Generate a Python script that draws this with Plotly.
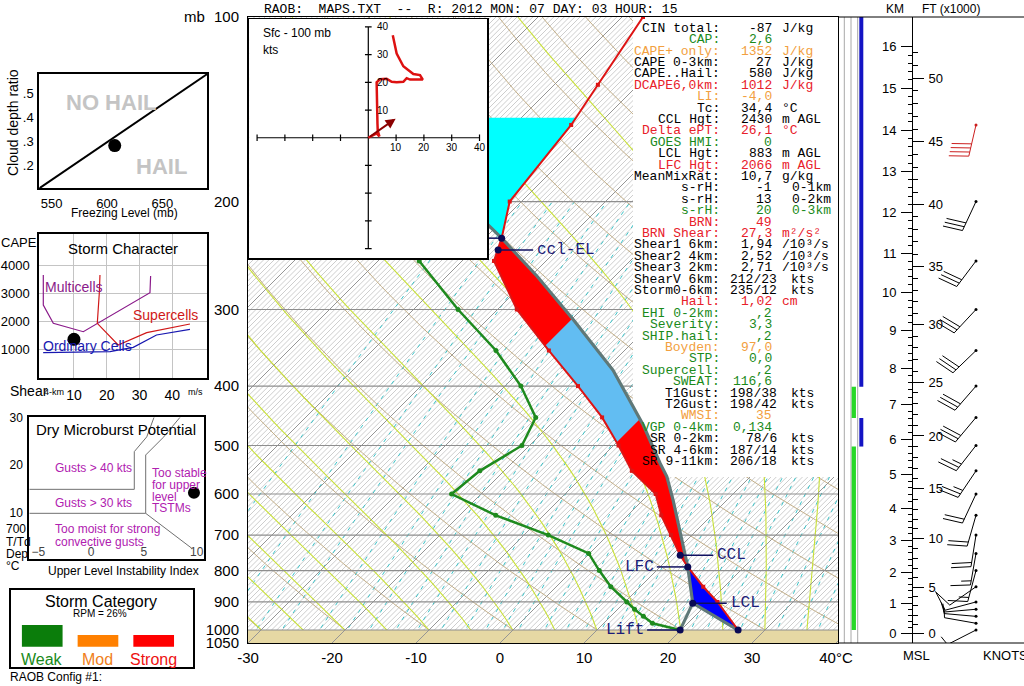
import numpy as np
import plotly.graph_objects as go

W, H = 1024, 686
SANS = "Liberation Sans, Arial, sans-serif"
MONO = "Liberation Mono, Courier New, monospace"

# ======================= DATA =======================
# Environmental temperature profile (mb, degC)
TEMP_P = [100, 129, 150, 200, 229.5, 250, 300, 350, 400, 450, 500, 550, 600, 650, 700, 755, 789, 850, 900, 1000]
TEMP_C = [-57.5, -54.8, -53.2, -51.4, -48.0, -46.2, -37.7, -29.0, -21.3, -14.7, -9.4, -4.8, 0.8, 4.0, 7.5, 11.0, 13.3, 17.5, 21.0, 26.8]
# Dew point profile
DEWP_P = [250, 300, 350, 400, 450, 500, 550, 600, 650, 700, 750, 800, 850, 900, 925, 950, 975, 1000]
DEWP_C = [-55.1, -44.7, -35.3, -28.1, -22.6, -20.9, -22.9, -23.5, -15.7, -7.1, -0.1, 3.2, 6.5, 10.2, 12.0, 13.9, 15.8, 19.9]
# Lifted parcel path
PARCEL_P = [1000, 904, 789, 700, 614, 562, 535, 463, 377, 312, 265, 229.5, 217, 191.5, 146]
PARCEL_C = [26.8, 18.2, 13.3, 8.7, 3.6, 0.05, -2.3, -8.9, -19.0, -29.7, -39.2, -48.0, -51.6, -58.7, -74.5]
# Key levels
LEVEL_NAMES = ["CCL", "LFC", "LCL", "Lift", "ccl-EL", "EL", "Sfc"]
LEVEL_P = [755, 789, 904, 1000, 240, 229.5, 1000]
LEVEL_C = [11.0, 13.3, 18.2, 19.9, -47.0, -48.0, 26.8]
HAIL_ZONE_C = [-30, -10]
NEG_AREA_TOP_P = 146
SURFACE_P = 1000

# Winds (mb, direction deg, speed kts)
WIND_P = [150, 200, 250, 300, 350, 400, 450, 500, 550, 600, 650, 700, 750, 800, 850, 900, 925, 950, 975, 1000]
WIND_DIR = [193, 205, 217, 223, 226, 221, 220, 218, 214, 205, 196, 189, 190, 195, 235, 255, 265, 275, 280, 243]
WIND_SPD = [40, 30, 30, 30, 30, 30, 30, 25, 25, 20, 20, 20, 15, 15, 10, 10, 5, 5, 5, 5]

# Hodograph (u, v in kts)
HODO_U = [0, 1.8, 3.0, 4.0, 3.4, 3.3, 3.2, 3.0, 3.0, 4.2, 6.6, 8.4, 10.2, 12.6, 13.8, 15.0, 19.6, 18.6, 16.2, 12.6, 10.2, 8.8]
HODO_V = [0, 0.8, 1.6, 0.5, 2.5, 5.0, 8.0, 15.0, 20.0, 21.1, 21.3, 20.2, 20.0, 20.2, 21.5, 21.0, 21.0, 22.6, 23.0, 25.8, 30.4, 37.0]
STORM_DIR, STORM_SPD = 235, 12

# Height scale (km MSL -> mb)
KM_TICKS = list(range(0, 17))
KM_TICK_P = [1012.7, 904.7, 805.3, 713.3, 633.2, 557.3, 488.6, 428.4, 374.2, 324.1, 281.7, 242.9, 208.3, 178.8, 152.9, 130.7, 111.8]
FT_TICKS = [0, 5, 10, 15, 20, 25, 30, 35, 40, 45, 50]

# Indicator bars (mb layers)
GREEN_LAYERS = [(401, 451), (502, 1000)]
BLUE_LAYERS = [(100, 401), (451, 502)]

# Hail panel
HAIL_LINE_X = [538.8, 690.7]
HAIL_LINE_Y = [0.106, 0.58]
HAIL_PT_X, HAIL_PT_Y = 607, 0.283

# Storm character panel
MULTI_X = [0.64, 0.64, 3.7, 12.85, 33.2, 33.4]
MULTI_Y = [3644, 2577, 1925, 1626, 3014, 3609]
SUPER_X = [17.94, 17.73, 17.12, 23.5, 32.2, 45.4]
SUPER_Y = [3644, 2993, 1925, 1153, 1591, 1900]
ORD_X = [0.6, 21.0, 28.1, 35.2, 45.4]
ORD_Y = [880, 915, 1070, 1510, 1710]
STORM_PT_X, STORM_PT_Y = 10.0, 1356

# Dry microburst panel
MB_LINE1_X = [-5.85, 4.09, 4.09, 5.27, 5.96]
MB_LINE1_Y = [14.9, 14.9, 22.8, 25.9, 30.0]
MB_LINE2_X = [-5.85, 5.17, 5.17, 6.84, 8.42]
MB_LINE2_Y = [9.87, 9.87, 22.1, 25.8, 30.0]
MB_LINE3_X = [5.17, 9.53]
MB_LINE3_Y = [9.87, 2.54]
MB_PT_X, MB_PT_Y = 9.74, 14.2

# Storm category
CAT_NAMES = ["Weak", "Mod", "Strong"]
CAT_VALUES = [1.85, 1.0, 1.0]

# Index table
TABLE_LABELS = ["CIN total:", "CAP:", "CAPE+ only:", "CAPE 0-3km:", "CAPE..Hail:", "DCAPE6,0km:", "LI:", "Tc:",
                "CCL Hgt:", "Delta ePT:", "GOES HMI:", "LCL Hgt:", "LFC Hgt:", "MeanMixRat:", "s-rH:", "s-rH:",
                "s-rH:", "BRN:", "BRN Shear:", "Shear1 6km:", "Shear2 4km:", "Shear3 2km:", "ShearV 6km:",
                "Storm0-6km:", "Hail:", "EHI 0-2km:", "Severity:", "SHIP.hail:", "Boyden:", "STP:", "Supercell:",
                "SWEAT:", "T1Gust:", "T2Gust:", "WMSI:", "VGP 0-4km:", "SR 0-2km:", "SR 4-6km:", "SR 9-11km:"]
TABLE_VALUES = ["-87", "2,6", "1352", "27", "580", "1012", "-4,0", "34,4", "2430", "26,1", "0", "883", "2066",
                "10,7", "-1", "13", "20", "49", "27,3", "1,94", "2,52", "2,71", "212/23", "235/12", "1,02", ",2",
                "3,3", ",2", "97,0", "0,0", ",2", "116,6", "198/38", "198/42", "35", "0,134", "78/6", "187/14",
                "206/18"]
TABLE_UNITS = ["J/kg", "", "J/kg", "J/kg", "J/kg", "J/kg", "", "°C", "m AGL", "°C", "", "m AGL", "m AGL", "g/kg",
               "0-1km", "0-2km", "0-3km", "", "m²/s²", "/10³/s", "/10³/s", "/10³/s", "kts", "kts", "cm", "", "",
               "", "", "", "", "", "kts", "kts", "", "", "kts", "kts", "kts"]
TABLE_KIND = ["k", "g", "o", "k", "k", "r", "o", "k", "k", "r", "g", "k", "r", "k", "k", "k", "g", "r", "r", "k",
              "k", "k", "k", "k", "r", "g", "g", "g", "o", "g", "g", "g", "k", "k", "o", "g", "k", "k", "k"]

HEADER = "RAOB:  MAPS.TXT  --  R: 2012 MON: 07 DAY: 03 HOUR: 15"

# ======================= geometry / scales =======================
MX0, MX1, MY0, MY1 = 248, 838, 17, 643
P_BOT, P_TOP = 1050.0, 100.0
PX_PER_C = 8.4
X_RANGE = [-30, -30 + (MX1 - MX0) / PX_PER_C]
Y_RANGE = [np.log10(P_BOT), np.log10(P_TOP)]
PXDEC = (MY1 - MY0) / (Y_RANGE[0] - Y_RANGE[1])
K_SKEW = (MY1 - MY0) / np.log(P_BOT / P_TOP) / PX_PER_C  # 45 degree isotherms


def xdom(a, b):
    return [a / W, b / W]


def ydom(top, bot):
    return [1 - bot / H, 1 - top / H]


def skx(T, p):
    return np.asarray(T, float) + K_SKEW * np.log(P_BOT / np.asarray(p, float))


def px2X(px):
    return X_RANGE[0] + (px - MX0) / PX_PER_C


def py2p(py):
    return 10 ** (Y_RANGE[1] + (py - MY0) / PXDEC)


NOH = dict(hoverinfo="skip", showlegend=False)
fig = go.Figure()


def polyline(segs, color, width, dash="solid", xa="x", ya="y"):
    X, Y = [], []
    for xs, ys in segs:
        X.extend([float(v) for v in xs]); X.append(None)
        Y.extend([float(v) for v in ys]); Y.append(None)
    return go.Scatter(x=X, y=Y, mode="lines", line=dict(color=color, width=width, dash=dash),
                      xaxis=xa, yaxis=ya, **NOH)


def interp_T(P, T, p):
    P = np.asarray(P, float); T = np.asarray(T, float)
    o = np.argsort(P)
    return float(np.interp(np.log(p), np.log(P[o]), T[o]))


def segment(P, T, p_lo, p_hi):
    pts = [(p_lo, interp_T(P, T, p_lo))]
    for p, t in sorted(zip(P, T)):
        if p_lo < p < p_hi:
            pts.append((p, t))
    pts.append((p_hi, interp_T(P, T, p_hi)))
    return pts


def clip_half(poly, c, keep_ge):
    def inside(pt):
        return pt[0] >= c if keep_ge else pt[0] <= c

    def inter(a, b):
        t = (c - a[0]) / (b[0] - a[0])
        return (c, a[1] + t * (b[1] - a[1]))
    out = []
    for i in range(len(poly)):
        cur, prev = poly[i], poly[i - 1]
        if inside(cur):
            if not inside(prev):
                out.append(inter(prev, cur))
            out.append(cur)
        elif inside(prev):
            out.append(inter(prev, cur))
    return out


def fill_poly(pts, color):
    P = np.array([p for p, t in pts]); T = np.array([t for p, t in pts])
    return go.Scatter(x=skx(T, P), y=P, mode="lines", fill="toself", fillcolor=color,
                      line=dict(width=0, color=color), **NOH)


# ======================= background of the skew-T =======================
span = K_SKEW * np.log(P_BOT / P_TOP)
pgrid = np.exp(np.linspace(np.log(P_BOT), np.log(P_TOP), 80))

fig.add_trace(polyline([([t, t + span], [P_BOT, P_TOP]) for t in np.arange(-110, 41, 0.625)], "#b8b8b8", 0.7))

MIX_W = [0.1, 0.2, 0.3, 0.4, 0.6, 0.8, 1, 1.3, 1.6, 2, 2.5, 3, 3.5, 4, 5, 6, 7, 8, 9, 10, 12, 14, 16, 18, 20,
         23, 26, 30, 35, 40]
pmix = np.exp(np.linspace(np.log(P_BOT), np.log(200), 30))
mix = []
for w in MIX_W:
    e = w * pmix / (622.0 + w)
    a = np.log(e / 6.112)
    td = 243.5 * a / (17.67 - a)
    mix.append((skx(td, pmix), pmix))
fig.add_trace(polyline(mix, "#3cc3c8", 1.0, dash="4px,5px"))

dry = []
for th in range(-40, 201, 10):
    T = (th + 273.15) * (pgrid / 1000.0) ** 0.2857 - 273.15
    dry.append((skx(T, pgrid), pgrid))
fig.add_trace(polyline(dry, "#c2ae88", 1.0))


def moist_curve(t1000):
    Rd, cp, Lv, eps = 287.04, 1005.7, 2.501e6, 0.622

    def f(T, p):
        tc = T - 273.15
        es = 6.112 * np.exp(17.67 * tc / (tc + 243.5))
        rs = eps * es / (p - es)
        return (Rd * T + Lv * rs) / (cp + Lv * Lv * rs * eps / (Rd * T * T))

    def step(T, p0, p1, n):
        lp0, lp1 = np.log(p0), np.log(p1)
        h = (lp1 - lp0) / n
        lp = lp0
        for _ in range(n):
            k1 = f(T, np.exp(lp))
            k2 = f(T + 0.5 * h * k1, np.exp(lp + 0.5 * h))
            k3 = f(T + 0.5 * h * k2, np.exp(lp + 0.5 * h))
            k4 = f(T + h * k3, np.exp(lp + h))
            T = T + h * (k1 + 2 * k2 + 2 * k3 + k4) / 6
            lp += h
        return T
    T = step(t1000 + 273.15, 1000.0, P_BOT, 8)
    out = [T]
    for i in range(1, len(pgrid)):
        T = step(T, pgrid[i - 1], pgrid[i], 2)
        out.append(T)
    return np.array(out) - 273.15


moist = [(skx(moist_curve(t0), pgrid), pgrid) for t0 in range(-30, 41, 5)]
fig.add_trace(polyline(moist, "#c8e038", 1.1))

# surface band
fig.add_trace(go.Scatter(x=[-300, 300, 300, -300], y=[SURFACE_P, SURFACE_P, 1200, 1200], mode="lines",
                         fill="toself", fillcolor="#e6d8a4", line=dict(width=0), **NOH))
fig.add_trace(polyline([([t, t + span], [P_BOT, P_TOP]) for t in range(-110, 41, 10)], "#969696", 1.0))
fig.add_trace(polyline([([-300, 300], [p, p]) for p in range(200, 1001, 100)], "#8e8e8e", 1.2))

# white panel behind the index table
fig.add_trace(go.Scatter(x=[px2X(633), px2X(900), px2X(900), px2X(633)],
                         y=[py2p(0), py2p(0), py2p(477), py2p(477)], mode="lines", fill="toself",
                         fillcolor="white", line=dict(width=0), **NOH))

# ======================= sounding areas =======================
EL_P = LEVEL_P[LEVEL_NAMES.index("EL")]
LFC_P = LEVEL_P[LEVEL_NAMES.index("LFC")]
cape_poly = segment(TEMP_P, TEMP_C, EL_P, LFC_P) + segment(PARCEL_P, PARCEL_C, EL_P, LFC_P)[::-1]
cin_poly = segment(TEMP_P, TEMP_C, LFC_P, SURFACE_P) + segment(PARCEL_P, PARCEL_C, LFC_P, SURFACE_P)[::-1]
neg_poly = segment(TEMP_P, TEMP_C, NEG_AREA_TOP_P, EL_P) + segment(PARCEL_P, PARCEL_C, NEG_AREA_TOP_P, EL_P)[::-1]

tl = [(t, np.log(p)) for p, t in cape_poly]
tl = clip_half(tl, HAIL_ZONE_C[0], True)
tl = clip_half(tl, HAIL_ZONE_C[1], False)
hail_poly = [(np.exp(lp), t) for t, lp in tl]

fig.add_trace(fill_poly(neg_poly, "#00ffff"))
fig.add_trace(fill_poly(cape_poly, "#ff0000"))
fig.add_trace(fill_poly(hail_poly, "#62bdf2"))
fig.add_trace(fill_poly(cin_poly, "#0000ff"))

# parcel path
lift_i = LEVEL_NAMES.index("Lift"); lcl_i = LEVEL_NAMES.index("LCL")
fig.add_trace(go.Scatter(x=skx(PARCEL_C, PARCEL_P), y=PARCEL_P, mode="lines",
                         line=dict(color="#5f7878", width=3.2), **NOH))
fig.add_trace(go.Scatter(x=skx([LEVEL_C[lift_i], LEVEL_C[lcl_i]], [LEVEL_P[lift_i], LEVEL_P[lcl_i]]),
                         y=[LEVEL_P[lift_i], LEVEL_P[lcl_i]], mode="lines",
                         line=dict(color="#5f7878", width=3), **NOH))
# temperature
fig.add_trace(go.Scatter(x=skx(TEMP_C, TEMP_P), y=TEMP_P, mode="lines+markers",
                         line=dict(color="#dd1414", width=2), marker=dict(size=4, color="#dd1414", symbol="square"),
                         **NOH))
# dew point
fig.add_trace(go.Scatter(x=skx(DEWP_C, DEWP_P), y=DEWP_P, mode="lines+markers",
                         line=dict(color="#1e8a1e", width=2.5), marker=dict(size=5, color="#1e8a1e"), **NOH))

# key level markers and connectors
LABEL_OFFSET_PX = {"CCL": 33, "LFC": -31, "LCL": 34, "Lift": -33, "ccl-EL": 35, "EL": -15}
conn = []
for name, p, t in zip(LEVEL_NAMES, LEVEL_P, LEVEL_C):
    if name in LABEL_OFFSET_PX:
        x0 = float(skx(t, p))
        conn.append(([x0, x0 + LABEL_OFFSET_PX[name] / PX_PER_C], [p, p]))
fig.add_trace(polyline(conn, "#101060", 1.5))
fig.add_trace(go.Scatter(x=skx(LEVEL_C, LEVEL_P), y=LEVEL_P, mode="markers",
                         marker=dict(size=7, color="#0a0a55"), **NOH))

# ======================= hodograph inset =======================
HX = [-42.8, 42.8]; HY = [-43.5, 42.85]
fig.add_trace(go.Scatter(x=[-60, 60, 60, -60], y=[-60, -60, 60, 60], mode="lines", fill="toself",
                         fillcolor="white", line=dict(width=0), xaxis="x2", yaxis="y2", **NOH))
cross = [([-40, 40], [0, 0]), ([0, 0], [-40, 40])]
for v in [-40, -30, -20, -10, 10, 20, 30, 40]:
    cross.append(([v, v], [-1.2, 1.2]))
    cross.append(([-1.2, 1.2], [v, v]))
fig.add_trace(polyline(cross, "black", 1.2, xa="x2", ya="y2"))
fig.add_trace(go.Scatter(x=HODO_U, y=HODO_V, mode="lines", line=dict(color="#dd1111", width=2.5),
                         xaxis="x2", yaxis="y2", **NOH))
su = -STORM_SPD * np.sin(np.radians(STORM_DIR)); sv = -STORM_SPD * np.cos(np.radians(STORM_DIR))

# ======================= left panels =======================
fig.add_trace(go.Scatter(x=HAIL_LINE_X, y=HAIL_LINE_Y, mode="lines", line=dict(color="black", width=2),
                         xaxis="x3", yaxis="y3", **NOH))
fig.add_trace(go.Scatter(x=[HAIL_PT_X], y=[HAIL_PT_Y], mode="markers", marker=dict(size=13, color="black"),
                         xaxis="x3", yaxis="y3", **NOH))

for xs, ys, col in [(MULTI_X, MULTI_Y, "#8a1a8a"), (SUPER_X, SUPER_Y, "#d01818"), (ORD_X, ORD_Y, "#1818b0")]:
    fig.add_trace(go.Scatter(x=xs, y=ys, mode="lines", line=dict(color=col, width=1.2),
                             xaxis="x4", yaxis="y4", **NOH))
fig.add_trace(go.Scatter(x=[STORM_PT_X], y=[STORM_PT_Y], mode="markers", marker=dict(size=13, color="black"),
                         xaxis="x4", yaxis="y4", **NOH))

for xs, ys in [(MB_LINE1_X, MB_LINE1_Y), (MB_LINE2_X, MB_LINE2_Y), (MB_LINE3_X, MB_LINE3_Y)]:
    fig.add_trace(go.Scatter(x=xs, y=ys, mode="lines", line=dict(color="#707070", width=1),
                             xaxis="x5", yaxis="y5", **NOH))
fig.add_trace(go.Scatter(x=[MB_PT_X], y=[MB_PT_Y], mode="markers", marker=dict(size=12, color="black"),
                         xaxis="x5", yaxis="y5", **NOH))

fig.add_trace(go.Bar(x=[0, 1, 2], y=CAT_VALUES, width=0.73, marker=dict(color=["#0b7d0b", "#ff8000", "#ff0000"],
                     line=dict(width=0)), xaxis="x6", yaxis="y6", **NOH))

# ======================= indicator bars =======================
fig.add_trace(polyline([([x, x], [P_TOP, P_BOT]) for x in [844.3, 851, 857.7]], "#a8a8a8", 1.0, xa="x7", ya="y"))
fig.add_trace(polyline([([853.8, 853.8], [a, b]) for a, b in GREEN_LAYERS], "#28d828", 4.3, xa="x7", ya="y"))
fig.add_trace(polyline([([861.3, 861.3], [a, b]) for a, b in BLUE_LAYERS], "#1414c4", 4.0, xa="x7", ya="y"))

# height axes carriers
fig.add_trace(go.Scatter(x=[None], y=[None], xaxis="x", yaxis="y8", **NOH))
fig.add_trace(go.Scatter(x=[None], y=[None], xaxis="x", yaxis="y9", **NOH))

# ======================= wind barbs =======================
BARB_X = 976


def barb(p, d, s, L=32.0, full=20.0, half=10.0, gap=4.2):
    by = np.log10(p)
    sx, sy = np.sin(np.radians(d)), -np.cos(np.radians(d))
    segs = [([BARB_X, BARB_X + L * sx], [p, 10 ** (by + L * sy / PXDEC)])]
    tilt = np.radians(12)
    bx_, by_ = -sy * np.cos(tilt) + sx * np.sin(tilt), sx * np.cos(tilt) + sy * np.sin(tilt)
    n_full = int(s // 10); n_half = 1 if (s % 10) >= 5 else 0
    lens = [full] * n_full + [half] * n_half
    for k, ln in enumerate(lens):
        dd = L - k * gap
        ox, oy = BARB_X + dd * sx, dd * sy
        segs.append(([ox, ox + ln * bx_], [10 ** (by + oy / PXDEC), 10 ** (by + (oy + ln * by_) / PXDEC)]))
    return segs


blk, red = [], []
for p, d, s in zip(WIND_P, WIND_DIR, WIND_SPD):
    (red if p < 175 else blk).extend(barb(p, d, s))
fig.add_trace(polyline(blk, "black", 1.0, xa="x10", ya="y10"))
fig.add_trace(polyline(red, "#cc1f1f", 1.0, xa="x10", ya="y10"))
fig.add_trace(go.Scatter(x=[BARB_X] * len(WIND_P), y=WIND_P, mode="markers",
                         marker=dict(size=3, color=["#cc1f1f" if p < 175 else "black" for p in WIND_P]),
                         xaxis="x10", yaxis="y10", **NOH))

# ======================= annotations =======================
ann = []


def A(text, xpx, ypx, size, color="black", xanchor="center", family=SANS, **kw):
    ann.append(dict(text=text, x=xpx / W, y=1 - ypx / H, xref="paper", yref="paper", showarrow=False,
                    font=dict(size=size, color=color, family=family), xanchor=xanchor, yanchor="middle", **kw))


A(HEADER.replace("  ", "\u00a0\u00a0"), 262, 9, 13, family=MONO, xanchor="left")
A("mb", 194, 17, 15)

KIND_COLOR = {"k": "#000000", "g": "#1a8a1a", "o": "#f2a040", "r": "#e8202a"}
for i, (lab, val, unit, kind) in enumerate(zip(TABLE_LABELS, TABLE_VALUES, TABLE_UNITS, TABLE_KIND)):
    y = 28.3 + i * 11.4
    col = KIND_COLOR[kind]
    A(lab, 722, y, 13, col, "right", MONO)
    if "/" in val:
        A(val, 779, y, 13, col, "right", MONO)
        A(unit, 789, y, 13, col, "left", MONO)
    else:
        A(val, 774, y, 13, col, "right", MONO)
        if unit:
            A(unit, 790 if "km" in unit else 780, y, 13, col, "left", MONO)

# key level labels
for name, p, t in zip(LEVEL_NAMES, LEVEL_P, LEVEL_C):
    if name in LABEL_OFFSET_PX and name != "EL":
        off = LABEL_OFFSET_PX[name]
        ann.append(dict(text=name, x=float(skx(t, p)), y=float(np.log10(p)), xref="x", yref="y", showarrow=False,
                        xanchor="left" if off > 0 else "right", xshift=off + (2 if off > 0 else -1),
                        font=dict(size=16, color="#1c1c78", family=MONO)))

# hodograph texts
A("Sfc - 100 mb", 260.7, 32.7, 12, xanchor="left")
A("kts", 261, 50, 12, xanchor="left")
for v in [10, 20, 30, 40]:
    ann.append(dict(text=str(v), x=v, y=0, xref="x2", yref="y2", showarrow=False, yshift=-10,
                    font=dict(size=10, family=SANS)))
    ann.append(dict(text=str(v), x=0, y=v, xref="x2", yref="y2", showarrow=False, xanchor="left", xshift=7,
                    font=dict(size=10, family=SANS)))
ann.append(dict(text="", x=su, y=sv, ax=0, ay=0, xref="x2", yref="y2", axref="x2", ayref="y2",
                showarrow=True, arrowhead=2, arrowsize=1, arrowwidth=2, arrowcolor="#8b0000"))

# hail panel texts
A("<b>NO HAIL</b>", 111, 102.7, 22, "#c4c4c4")
A("<b>HAIL</b>", 161.5, 166.7, 22, "#c4c4c4")
A("Cloud depth ratio", 13, 123, 14, textangle=-90)
A("Freezing Level (mb)", 124, 212.7, 12)

# storm character texts
A("Storm Character", 123, 248.3, 15)
A("CAPE", -1, 242.7, 13, xanchor="left")
A("Multicells", 74, 286.7, 14, "#8a1a8a")
A("Supercells", 165.5, 315, 14, "#d01818")
A("Ordinary Cells", 87.5, 346, 14, "#1818b0")
A("Shear", 8, 390.7, 14, xanchor="left")
A("4-km", 42, 391.5, 9, xanchor="left")
A("m/s", 195, 391.5, 9)

# microburst texts
PURPLE = "#b020b0"
A("Dry Microburst Potential", 116, 430, 15)
A("Gusts > 40 kts", 52.7, 468.3, 12, PURPLE, "left")
A("Gusts > 30 kts", 52.7, 502.7, 12, PURPLE, "left")
A("Too moist for strong", 52.7, 529.3, 12, PURPLE, "left")
A("convective gusts", 52.7, 541.7, 12, PURPLE, "left")
for k, s in enumerate(["Too stable", "for upper", "level", "TSTMs"]):
    A(s, 150, 472.7 + k * 11.9, 12, PURPLE, "left")
for k, s in enumerate(["700", "T/Td", "Dep", "°C"]):
    A(s, 4, 529.3 + k * 12.2, 12, xanchor="left")
A("Upper Level Instability Index", 123.5, 570.7, 12)

# storm category texts
A("Storm Category", 101.3, 601.7, 16)
A("RPM = 26%", 100, 613.3, 10)
for k, (nm, col) in enumerate(zip(CAT_NAMES, ["#1a8a1a", "#f08020", "#ee1111"])):
    A(nm, 42.4 + k * 55.5, 659.3, 16, col)
A("RAOB Config #1:", 8.3, 676.7, 12, xanchor="left")

# right side texts
A("KM", 894.5, 9.3, 12)
A("FT (x1000)", 950.5, 9.3, 12)
A("MSL", 916, 655, 13)
A("KNOTS", 981, 655, 13, xanchor="left")

# ======================= axes =======================
def km2p(km):
    return float(np.exp(np.interp(km, KM_TICKS, np.log(KM_TICK_P))))


main_ydom = ydom(MY0, MY1)
box = dict(showline=True, mirror=True, linecolor="black", showgrid=False, zeroline=False, ticks="",
           automargin=False)
hid = dict(visible=False, automargin=False)

layout = dict(
    width=W, height=H, margin=dict(l=0, r=0, t=0, b=0, pad=0, autoexpand=False), autosize=False,
    paper_bgcolor="white", plot_bgcolor="white", showlegend=False,
    font=dict(family=SANS, color="black"),
    xaxis=dict(domain=xdom(MX0, MX1), range=X_RANGE, anchor="y", linewidth=1,
               tickvals=list(range(-30, 41, 10)),
               ticktext=[str(v) for v in range(-30, 40, 10)] + ["40°C"],
               tickfont=dict(size=15, family=SANS), ticklabelstandoff=1, **box),
    yaxis=dict(domain=main_ydom, type="log", range=Y_RANGE, anchor="x", linewidth=1,
               tickvals=list(range(100, 1001, 100)) + [1050],
               ticktext=[str(v) for v in range(100, 1001, 100)] + ["1050"],
               tickfont=dict(size=15, family=SANS), ticklabelstandoff=5, **box),
    xaxis2=dict(domain=xdom(249.3, 487.3), range=HX, anchor="y2", linewidth=1.5, showticklabels=False,
                **box),
    yaxis2=dict(domain=ydom(19, 258.3), range=HY, anchor="x2", linewidth=1.5, showticklabels=False, **box),
    xaxis3=dict(domain=xdom(39.3, 207.3), range=[538.8, 690.7], anchor="y3", linewidth=2,
                tickvals=[550, 600, 650], tickfont=dict(size=13), ticklabelstandoff=2, **box),
    yaxis3=dict(domain=ydom(74, 188.3), range=[0.106, 0.58], anchor="x3", linewidth=2,
                tickvals=[0.1, 0.2, 0.3, 0.4, 0.5], ticktext=[".1", ".2", ".3", ".4", ".5"],
                tickfont=dict(size=13), ticklabelstandoff=1, **box),
    xaxis4=dict(domain=xdom(39.3, 207.3), range=[-0.58, 50.7], anchor="y4", linewidth=2,
                tickvals=[10, 20, 30, 40], tickfont=dict(size=14), ticklabelstandoff=3,
                **{**box, "showgrid": True}, gridcolor="#c4c4c4"),
    yaxis4=dict(domain=ydom(234, 378.3), range=[-32, 5103], anchor="x4", linewidth=2,
                tickvals=[1000, 2000, 3000, 4000], tickfont=dict(size=13), ticklabelstandoff=5,
                **{**box, "showgrid": True}, gridcolor="#c4c4c4"),
    xaxis5=dict(domain=xdom(29.3, 204), range=[-5.85, 10.69], anchor="y5", linewidth=2,
                tickvals=[-5, 0, 5, 10], tickfont=dict(size=12), ticklabelposition="inside", **box),
    yaxis5=dict(domain=ydom(417.3, 559.3), range=[0.23, 30], anchor="x5", linewidth=2,
                tickvals=[10, 20, 30], tickfont=dict(size=12), ticklabelstandoff=2, **box),
    xaxis6=dict(domain=xdom(10.7, 192.7), range=[-0.566, 2.70], anchor="y6", linewidth=2,
                showticklabels=False, **box),
    yaxis6=dict(domain=ydom(590, 666.7), range=[-1.71, 4.85], anchor="x6", linewidth=2,
                showticklabels=False, **box),
    xaxis7=dict(domain=xdom(838, 866), range=[838, 866], anchor="y", **hid),
    yaxis8=dict(type="log", range=Y_RANGE, overlaying="y", anchor="free", position=912 / W, side="left",
                showline=True, linecolor="black", linewidth=1, showgrid=False, zeroline=False,
                ticks="outside", ticklen=11, tickcolor="black", automargin=False,
                tickvals=[km2p(k) for k in KM_TICKS], ticktext=[str(k) for k in KM_TICKS],
                tickfont=dict(size=13), ticklabelstandoff=2,
                minor=dict(tickvals=[km2p(k) for k in np.arange(0, 16.01, 0.2)], ticks="outside",
                           ticklen=4, tickcolor="black")),
    yaxis9=dict(type="log", range=Y_RANGE, overlaying="y", anchor="free", position=912 / W, side="right",
                showline=False, showgrid=False, zeroline=False, automargin=False,
                ticks="outside", ticklen=11, tickcolor="black",
                tickvals=[km2p(f * 0.3048) for f in FT_TICKS], ticktext=[str(f) for f in FT_TICKS],
                tickfont=dict(size=13), ticklabelstandoff=2,
                minor=dict(tickvals=[km2p(f * 0.3048) for f in np.arange(0, 52.1, 1.0)], ticks="outside",
                           ticklen=5, tickcolor="black")),
    xaxis10=dict(domain=xdom(920, 1024), range=[920, 1024], anchor="y10", **hid),
    yaxis10=dict(domain=main_ydom, type="log", range=Y_RANGE, anchor="x10", **hid),
    annotations=ann,
    shapes=[dict(type="line", xref="paper", yref="paper", x0=MX1 / W, x1=1, y0=1 - MY0 / H, y1=1 - MY0 / H,
                 line=dict(color="black", width=1)),
            dict(type="line", xref="paper", yref="paper", x0=MX1 / W, x1=1, y0=1 - MY1 / H, y1=1 - MY1 / H,
                 line=dict(color="black", width=1))],
)
fig.update_layout(**layout)
fig.write_html("out.html", config={"displayModeBar": False, "staticPlot": True},
               post_script="document.body.style.margin='0px';document.body.style.overflow='hidden';")
